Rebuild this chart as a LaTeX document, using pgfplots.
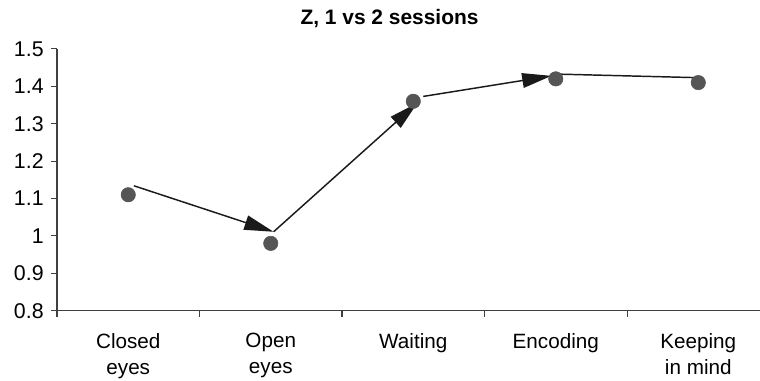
\documentclass[border=0pt]{standalone}
\usepackage{pgfplots}
\pgfplotsset{compat=1.18}
\usepackage{fontspec}
\setmainfont{Liberation Sans}
\usetikzlibrary{arrows.meta}
\definecolor{dotgray}{HTML}{555555}
\definecolor{linecol}{HTML}{1A1A1A}
\begin{document}
\begin{tikzpicture}
\begin{axis}[
  name=ax,
  scale only axis,
  width=527.25pt, height=196.3pt,
  xmin=0.5, xmax=5.433,
  ymin=0.8, ymax=1.5,
  axis lines*=left,
  axis line style={color=black!75, line width=0.8pt},
  clip=false,
  /pgf/number format/assume math mode=true,
  ytick={0.8,0.9,...,1.5},
  yticklabel style={/pgf/number format/fixed, /pgf/number format/precision=1, xshift=-2pt, font=\fontsize{16pt}{19.5pt}\selectfont},
  xtick={0.5,1.5,2.5,3.5,4.5},
  xticklabels={},
  extra x ticks={1,2,3,4,5},
  extra x tick labels={Closed\\eyes, Open\\eyes, Waiting, Encoding, Keeping\\in mind},
  extra x tick style={tick style={draw=none}},
  xticklabel style={align=center, anchor=north, yshift=-9pt, font=\fontsize{15.5pt}{19.5pt}\selectfont},
  tick align=outside,
  major tick length=4.5pt,
  tick style={color=black!75, line width=0.8pt},
  title={\bfseries Z, 1 vs 2 sessions},
  title style={at={(axis description cs:0.473,1)}, anchor=base, yshift=12pt, font=\fontsize{15.7pt}{18pt}\selectfont},
]
\addplot[only marks, mark=*, mark size=5.4pt, mark options={fill=dotgray, draw=dotgray}]
  coordinates {(1,1.11) (2,0.98) (3,1.36) (4,1.42) (5,1.41)};
\addplot[linecol, line width=1.1pt, -{Triangle[length=22pt,width=11pt]}]
  coordinates {(1.04,1.134) (2.02,1.011)};
\addplot[linecol, line width=1.1pt, -{Triangle[length=22pt,width=11pt]}]
  coordinates {(2.02,1.011) (3.03,1.356)};
\addplot[linecol, line width=1.1pt, -{Triangle[length=22pt,width=11pt]}]
  coordinates {(3.07,1.373) (3.97,1.428)};
\addplot[linecol, line width=1.1pt]
  coordinates {(3.98,1.433) (5.01,1.423)};
\end{axis}
\pgfresetboundingbox
\path (ax.south west) ++(-42.75pt,-52pt) rectangle ++(570pt,285pt);
\end{tikzpicture}
\end{document}
